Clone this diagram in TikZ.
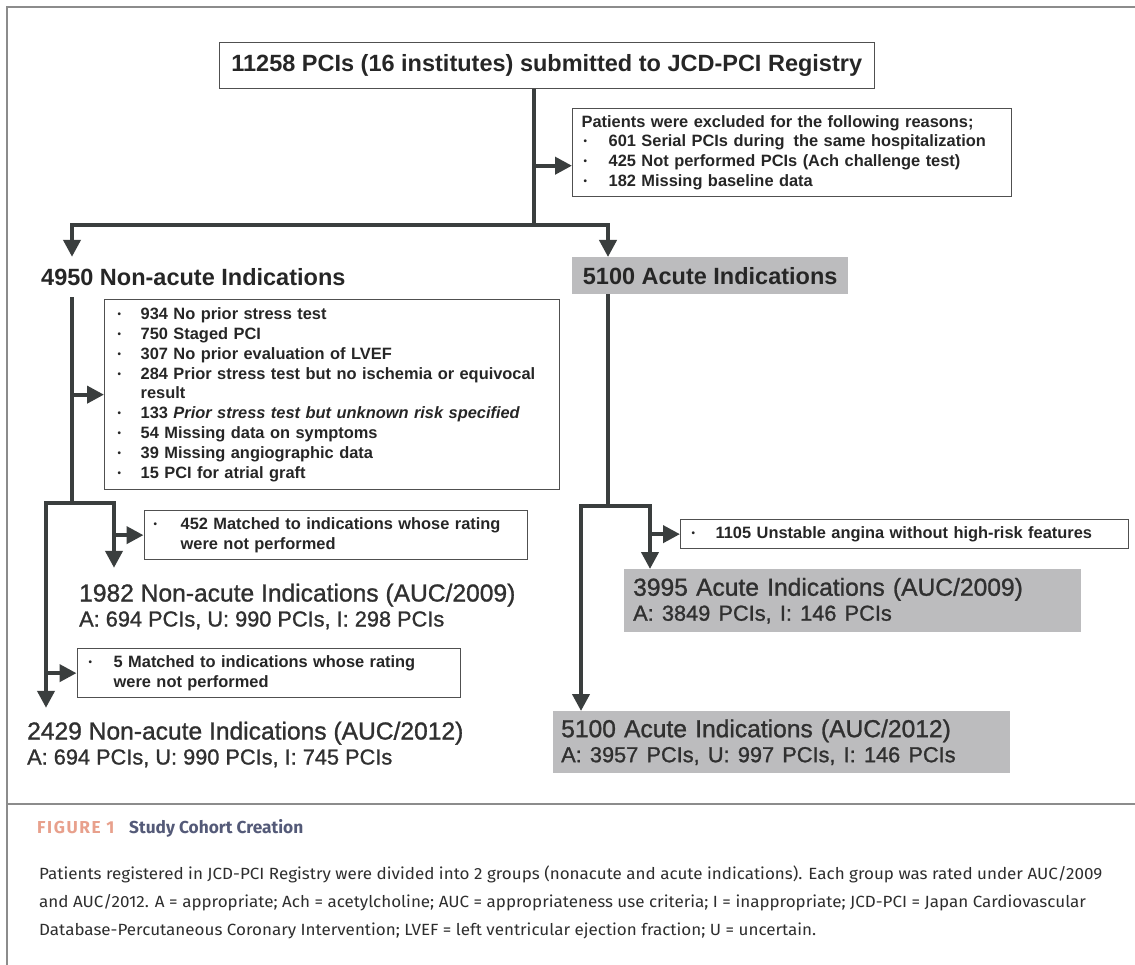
\documentclass[tikz,border=0pt]{standalone}
\usepackage{fontspec}
\usetikzlibrary{arrows.meta}
\setmainfont{Liberation Sans}
\newfontfamily\hfont{Liberation Sans}[FakeBold=1.1]
\newfontfamily\capfont{Fira Sans}[FakeStretch=1.05]
\newfontfamily\capbold{Fira Sans}
\definecolor{lc}{HTML}{3A3E3E}
\definecolor{bc}{HTML}{505050}
\definecolor{gf}{HTML}{BCBCBE}
\definecolor{tc}{HTML}{262626}
\definecolor{htc}{HTML}{303030}
\definecolor{salmon}{HTML}{E8A08C}
\definecolor{slate}{HTML}{545A78}
\definecolor{fr}{HTML}{8C8C8C}
\definecolor{captc}{HTML}{2E2E2E}
\newcommand{\bul}{\raisebox{0.12em}{\scalebox{0.6}{•}}}
\newcommand{\bitem}[2]{\makebox[#1][l]{\bul}#2}
\tikzset{
  conn/.style={draw=lc, line width=4pt},
  arr/.style={conn, -{Triangle[length=17pt,width=17pt]}},
  wbox/.style={draw=bc, line width=1.3pt, fill=white, anchor=north west, align=left, inner ysep=0pt, text=tc, font=\fontsize{16.4}{19.8}\selectfont\bfseries},
  gbox/.style={fill=gf, anchor=north west, align=left, inner ysep=0pt, text=htc, font=\hfont\fontsize{24.6}{25}\selectfont},
  head/.style={anchor=west, align=left, inner sep=0pt, text=htc, font=\hfont\fontsize{24.6}{25}\selectfont},
  framel/.style={draw=fr, line width=1.2pt},
}
\newcommand{\subl}[1]{{\fontsize{21.75}{25}\selectfont #1}}
\begin{document}
\begin{tikzpicture}[x=1pt,y=-1pt]
\useasboundingbox[fill=white] (0,0) rectangle (1135,965);
% frame
\draw[framel] (7,965) -- (7,7) -- (1135,7);
\draw[framel] (7,804) -- (1135,804);

% top box
\node[draw=bc, line width=1.3pt, anchor=north west, minimum width=655pt, minimum height=46pt, inner sep=0pt, text=tc, font=\fontsize{23.5}{26}\selectfont\bfseries] (top) at (218.6,42) {11258 PCIs (16 institutes) submitted to JCD-PCI Registry};

% exclusion box
\node[wbox, inner xsep=9pt, text width=421pt, minimum height=88pt] (excl) at (572,108) {Patients were excluded for the following reasons;\\
\hspace*{2pt}\bitem{25pt}{601 Serial PCIs during\hspace{0.55em}the same hospitalization}\\
\hspace*{2pt}\bitem{25pt}{425 Not performed PCIs (Ach challenge test)}\\
\hspace*{2pt}\bitem{25pt}{182 Missing baseline data}};

% level 2
\node[head, minimum height=40pt, text=tc, font=\fontsize{23.5}{26}\selectfont\bfseries] (h4950) at (41,277) {4950 Non-acute Indications};
\node[gbox, inner xsep=9pt, minimum width=276pt, minimum height=37pt, text=tc, font=\fontsize{23.5}{26}\selectfont\bfseries] (g5100) at (572,257) {5100 Acute Indications};

% non-acute exclusion
\node[wbox, inner xsep=13pt, text width=429pt, minimum height=190pt] (nac) at (104,299) {\bitem{23pt}{934 No prior stress test}\\
\bitem{23pt}{750 Staged PCI}\\
\bitem{23pt}{307 No prior evaluation of LVEF}\\
\bitem{23pt}{284 Prior stress test but no ischemia or equivocal}\\
\hspace*{23pt}result\\
\bitem{23pt}{133 \textit{Prior stress test but unknown risk specified}}\\
\bitem{23pt}{54 Missing data on symptoms}\\
\bitem{23pt}{39 Missing angiographic data}\\
\bitem{23pt}{15 PCI for atrial graft}};

\node[wbox, inner xsep=9.5pt, text width=364.5pt, minimum height=49pt] (m452) at (143.5,510) {\bitem{27pt}{452 Matched to indications whose rating}\\
\hspace*{27pt}were not performed};

\node[wbox, inner xsep=11.5pt, text width=360.5pt, minimum height=49pt] (m5) at (76.5,648) {\bitem{25pt}{5 Matched to indications whose rating}\\
\hspace*{25pt}were not performed};

\node[wbox, inner xsep=11pt, text width=425.5pt, minimum height=29pt] (m1105) at (680,519) {\bitem{24pt}{1105 Unstable angina without high-risk features}};

% results
\node[head, minimum height=77pt] (h1982) at (79,606.5) {1982 Non-acute Indications (AUC/2009)\\
\subl{A: 694 PCIs, U: 990 PCIs, I: 298 PCIs}};
\node[head, minimum height=73pt] (h2429) at (27,744.5) {2429 Non-acute Indications (AUC/2012)\\
\subl{A: 694 PCIs, U: 990 PCIs, I: 745 PCIs}};
\node[gbox, inner xsep=9pt, text width=439pt, minimum height=63pt] (g3995) at (624,569) {3995 Acute Indications (AUC/2009)\\
\subl{A: 3849 PCIs, I: 146 PCIs}};
\node[gbox, inner xsep=8pt, text width=440.5pt, minimum height=62pt] (g5100b) at (553,711) {5100 Acute Indications (AUC/2012)\\
\subl{A: 3957 PCIs, U: 997 PCIs, I: 146 PCIs}};

% connectors
\coordinate (t1) at (533.5,225);
\coordinate (ex) at (533.5,165.7);
\coordinate (bl) at (72,225);
\coordinate (br) at (608,225);
\draw[conn] (t1 |- top.south) -- (t1);
\draw[arr] (ex) -- (ex -| excl.west);
\draw[arr] (t1) -| (bl |- h4950.north);
\draw[arr] (t1) -| (br |- g5100.north);

\coordinate (lj) at (72,503);
\coordinate (la) at (46,503);
\coordinate (lb) at (114,503);
\draw[conn] (lj |- h4950.south) -- (lj);
\draw[arr] (nac.west -| lj) -- (nac.west);
\draw[arr] (lj) -| (lb |- h1982.north);
\draw[arr] (lj) -| (la |- h2429.north);
\draw[arr] (lb |- m452.west) -- (m452.west);
\draw[arr] (la |- m5.west) -- (m5.west);

\coordinate (rj) at (608,506);
\coordinate (ra) at (581,506);
\coordinate (rb) at (650,506);
\draw[conn] (rj |- g5100.south) -- (rj);
\draw[arr] (rj) -| (rb |- g3995.north);
\draw[arr] (rj) -| (ra |- g5100b.north);
\draw[arr] (rb |- m1105.west) -- (m1105.west);

% caption
\node[anchor=west, inner sep=0pt, text=salmon, font=\capbold\bfseries\fontsize{17.3}{20}\selectfont\addfontfeature{LetterSpace=9}] (figlab) at (37,828) {FIGURE 1};
\node[anchor=west, inner sep=0pt, text=slate, font=\capbold\bfseries\fontsize{17.3}{20}\selectfont] (figtitle) at (129,828) {Study Cohort Creation};
\node[anchor=north west, inner sep=0pt, align=left, text=captc, font=\capfont\fontsize{16.2}{28}\selectfont] (capbody) at (39,866) {Patients registered in JCD-PCI Registry were divided into 2 groups (nonacute and acute indications). Each group was rated under AUC/2009\\
and AUC/2012. A = appropriate; Ach = acetylcholine; AUC = appropriateness use criteria; I = inappropriate; JCD-PCI = Japan Cardiovascular\\
Database-Percutaneous Coronary Intervention; LVEF = left ventricular ejection fraction; U = uncertain.};
\end{tikzpicture}
\end{document}
